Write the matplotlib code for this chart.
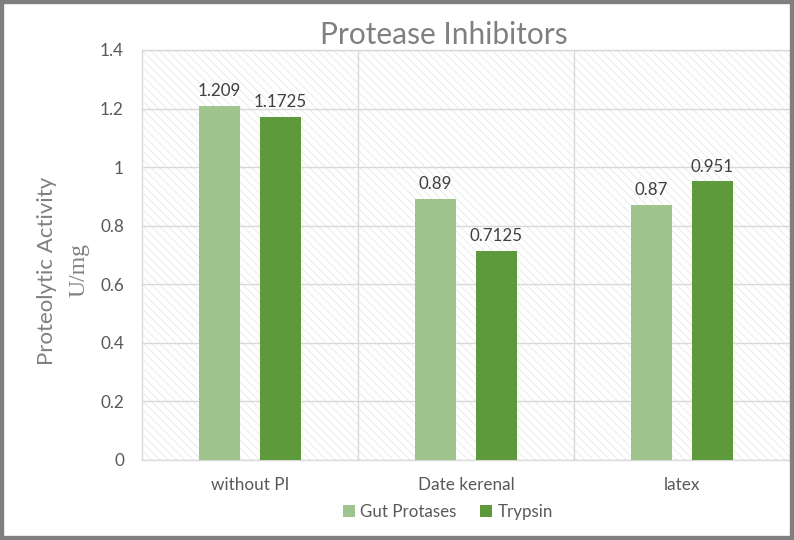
import matplotlib
matplotlib.use("Agg")
import matplotlib.pyplot as plt
import numpy as np
from matplotlib.patches import Rectangle

# data
categories = ["without PI", "Date kerenal", "latex"]
gut_protases = [1.209, 0.89, 0.87]
trypsin = [1.1725, 0.7125, 0.951]
gut_labels = ["1.209", "0.89", "0.87"]
trypsin_labels = ["1.1725", "0.7125", "0.951"]

light_green = "#9fc48e"
dark_green = "#5e9a3c"
grid_gray = "#d9d9d9"

plt.rcParams["font.family"] = ["Lato", "DejaVu Sans"]
plt.rcParams["hatch.linewidth"] = 0.5
plt.rcParams["hatch.color"] = "#e4e4e4"

W, H = 794, 540
fig = plt.figure(figsize=(W / 100, H / 100), dpi=100)

# plot area in pixel coordinates
left, right, top, bottom = 142, 790, 50, 460
ax = fig.add_axes([left / W, (H - bottom) / H, (right - left) / W, (bottom - top) / H])

# hatched background of the plot area
ax.add_patch(Rectangle((0, 0), 1, 1, transform=ax.transAxes, facecolor="white",
                       edgecolor="#e4e4e4", hatch="\\\\\\\\", linewidth=0, zorder=0))

x = np.arange(len(categories))
width = 0.194
offset = 0.141
b1 = ax.bar(x - offset, gut_protases, width, color=light_green, label="Gut Protases", zorder=3)
b2 = ax.bar(x + offset, trypsin, width, color=dark_green, label="Trypsin", zorder=3)

for bars, labs in ((b1, gut_labels), (b2, trypsin_labels)):
    for rect, lab in zip(bars, labs):
        ax.annotate(lab, (rect.get_x() + rect.get_width() / 2, rect.get_height()),
                    xytext=(0, 5), textcoords="offset points", ha="center", va="bottom",
                    fontsize=12.2, color="#404040", zorder=4)

ax.set_xlim(-0.5, len(categories) - 0.5)
ax.set_ylim(0, 1.4)
ax.set_yticks(np.arange(0, 1.41, 0.2))
ax.set_yticklabels(["0", "0.2", "0.4", "0.6", "0.8", "1", "1.2", "1.4"])
ax.set_xticks(x)
ax.set_xticklabels(categories)
ax.tick_params(axis="both", length=0, labelsize=12.3, colors="#595959")
ax.tick_params(axis="y", pad=13)
ax.tick_params(axis="x", pad=12)

ax.yaxis.grid(True, color=grid_gray, linewidth=1, zorder=1)
ax.set_axisbelow(True)
for xb in (0.5, 1.5):
    ax.axvline(xb, color=grid_gray, linewidth=1, zorder=1)
for s in ax.spines.values():
    s.set_color(grid_gray)
    s.set_linewidth(1)

fig.text(444 / W, 1 - 35 / H, "Protease Inhibitors", ha="center", va="center",
         fontsize=21.5, color="#808080")
fig.text(47 / W, 1 - 271 / H, "Proteolytic Activity", rotation=90, ha="center", va="center",
         fontsize=16, color="#808080")
fig.text(79 / W, 1 - 270 / H, "U/mg", rotation=90, ha="center", va="center",
         fontsize=17, color="#808080", family=["Liberation Serif", "DejaVu Serif"])

fig.legend(handles=[b1, b2], loc="center", bbox_to_anchor=(448 / W, 1 - 512 / H),
           ncol=2, frameon=False, fontsize=12.2, handlelength=0.7, handleheight=0.7,
           handletextpad=0.3, columnspacing=1.4, labelcolor="#595959")

# gray frame round the chart
fig.add_artist(Rectangle((0, 0), 1, 1, transform=fig.transFigure, fill=False,
                         edgecolor="#7f7f7f", linewidth=6))

fig.savefig("out.png", dpi=100)
